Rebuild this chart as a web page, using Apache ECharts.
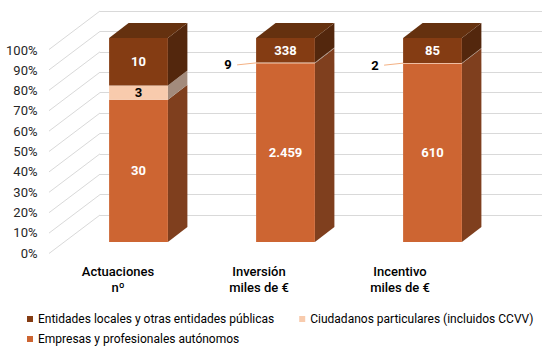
<!DOCTYPE html>
<html lang="es">
<head>
<meta charset="UTF-8">
<title>Actuaciones, inversión e incentivo por tipo de beneficiario</title>
<script src="https://cdn.jsdelivr.net/npm/echarts@6/dist/echarts.min.js"></script>
<style>
  html, body { margin: 0; padding: 0; background: #fff; }
  #chart { width: 545px; height: 352px; }
</style>
</head>
<body>
<div id="chart"></div>
<script>
// data
const categories = ['Actuaciones\nnº', 'Inversión\nmiles de €', 'Incentivo\nmiles de €'];
const nameEntidades = 'Entidades locales y otras entidades públicas';
const nameCiudadanos = 'Ciudadanos particulares (incluidos CCVV)';
const nameEmpresas = 'Empresas y profesionales autónomos';
const empresas = [30, 2459, 610];
const ciudadanos = [3, 9, 2];
const entidades = [10, 338, 85];
const percentTicks = [0, 10, 20, 30, 40, 50, 60, 70, 80, 90, 100];

// 3d look
const DX = 19.5, DY = -15;
const FONT = 'Roboto, "Noto Sans", sans-serif';

const stackOrder = [empresas, ciudadanos, entidades]; // bottom -> top
const totals = categories.map((c, i) => empresas[i] + ciudadanos[i] + entidades[i]);

// [category index, start %, end %, raw value]
function segments(k) {
    return categories.map((c, i) => {
        let base = 0;
        for (let j = 0; j < k; j++) base += stackOrder[j][i];
        const v = stackOrder[k][i];
        return [i, base / totals[i] * 100, (base + v) / totals[i] * 100, v];
    });
}

function fmt(v) {
    return String(v).replace(/\B(?=(\d{3})+(?!\d))/g, '.');
}

function makeRender(colors, labelColor, isTop) {
    return function (params, api) {
        const i = api.value(0);
        const p0 = api.coord([i, api.value(1)]);
        const p1 = api.coord([i, api.value(2)]);
        const w = api.size([1, 0])[0] * 0.4;
        const x0 = p0[0] - w / 2, x1 = p0[0] + w / 2;
        const yb = p0[1], yt = p1[1];
        const children = [
            {
                type: 'polygon',
                shape: { points: [[x1, yt], [x1 + DX, yt + DY], [x1 + DX, yb + DY], [x1, yb]] },
                style: { fill: colors.side }
            },
            {
                type: 'rect',
                shape: { x: x0, y: yt, width: w, height: yb - yt },
                style: { fill: colors.front }
            }
        ];
        if (isTop) {
            children.push({
                type: 'polygon',
                shape: { points: [[x0, yt], [x0 + DX, yt + DY], [x1 + DX, yt + DY], [x1, yt]] },
                style: { fill: colors.top }
            });
        }
        const text = fmt(api.value(3));
        const ym = (yt + yb) / 2;
        if (yb - yt > 10) {
            children.push({
                type: 'text',
                style: {
                    text: text, x: p0[0], y: ym, fill: labelColor,
                    font: 'bold 13px ' + FONT, align: 'center', verticalAlign: 'middle'
                }
            });
        } else {
            // small slice: label outside with leader line
            children.push({
                type: 'line',
                shape: { x1: x0 - 19, y1: ym + 2, x2: x0, y2: ym },
                style: { stroke: '#F4B183', lineWidth: 1 }
            });
            children.push({
                type: 'text',
                style: {
                    text: text, x: x0 - 28, y: ym + 2, fill: '#000',
                    font: 'bold 13px ' + FONT, align: 'center', verticalAlign: 'middle'
                }
            });
        }
        return { type: 'group', children: children };
    };
}

const cEmpresas = { front: '#CD6532', side: '#7F3F1E', top: '#A04E22' };
const cCiudadanos = { front: '#F8CBAD', side: '#A38B7C', top: '#F8CBAD' };
const cEntidades = { front: '#843C13', side: '#53270D', top: '#65310F' };

const legendText = { fontSize: 12, color: '#000', fontFamily: FONT };

const chart = echarts.init(document.getElementById('chart'), null, { renderer: 'svg' });

chart.setOption({
    animation: false,
    backgroundColor: '#fff',
    textStyle: { fontFamily: FONT },
    grid: [
        { left: 65, right: 39, top: 38, bottom: 110 },    // bars
        { left: 47.5, right: 74.5, top: 50, bottom: 99 }, // front labels
        { left: 100, right: 3, top: 11, bottom: 137 }     // back wall
    ],
    xAxis: [
        { type: 'category', gridIndex: 0, data: categories, show: false },
        {
            type: 'category', gridIndex: 1, data: categories,
            axisLine: { show: false }, axisTick: { show: false },
            axisLabel: {
                margin: 10, fontSize: 13, fontWeight: 500, lineHeight: 16,
                color: '#000', fontFamily: FONT
            }
        },
        { type: 'value', gridIndex: 2, min: 0, max: 1, show: false }
    ],
    yAxis: [
        { type: 'value', gridIndex: 0, min: 0, max: 100, show: false },
        {
            type: 'value', gridIndex: 1, min: 0, max: 100, interval: 10,
            axisLine: { show: false }, axisTick: { show: false }, splitLine: { show: false },
            axisLabel: { formatter: '{value}%', margin: 10, fontSize: 13, color: '#262626', fontFamily: FONT }
        },
        {
            type: 'value', gridIndex: 2, min: 0, max: 100, interval: 10,
            axisLine: { show: false }, axisTick: { show: false }, axisLabel: { show: false },
            splitLine: { lineStyle: { color: '#D9D9D9', width: 1 } }
        }
    ],
    legend: [
        {
            data: [nameEntidades, nameCiudadanos],
            left: 27, top: 313, width: 518, padding: 0, itemGap: 25,
            itemWidth: 6, itemHeight: 6, icon: 'rect',
            textStyle: legendText
        },
        {
            data: [nameEmpresas],
            left: 27, top: 333, padding: 0,
            itemWidth: 6, itemHeight: 6, icon: 'rect',
            textStyle: legendText
        }
    ],
    series: [
        {
            name: 'floor',
            type: 'custom',
            xAxisIndex: 2, yAxisIndex: 2,
            silent: true, z: 0,
            data: percentTicks.map(v => [0, v]),
            renderItem: function (params, api) {
                const p = api.coord([0, api.value(1)]);
                return {
                    type: 'line',
                    shape: { x1: p[0] - 51, y1: p[1] + 38.5, x2: p[0], y2: p[1] },
                    style: { stroke: '#D9D9D9', lineWidth: 1 }
                };
            }
        },
        {
            name: nameEmpresas, type: 'custom', xAxisIndex: 0, yAxisIndex: 0,
            itemStyle: { color: cEmpresas.front },
            data: segments(0),
            renderItem: makeRender(cEmpresas, '#fff', false)
        },
        {
            name: nameCiudadanos, type: 'custom', xAxisIndex: 0, yAxisIndex: 0,
            itemStyle: { color: cCiudadanos.front },
            data: segments(1),
            renderItem: makeRender(cCiudadanos, '#000', false)
        },
        {
            name: nameEntidades, type: 'custom', xAxisIndex: 0, yAxisIndex: 0,
            itemStyle: { color: cEntidades.front },
            data: segments(2),
            renderItem: makeRender(cEntidades, '#fff', true)
        }
    ]
});
</script>
</body>
</html>
